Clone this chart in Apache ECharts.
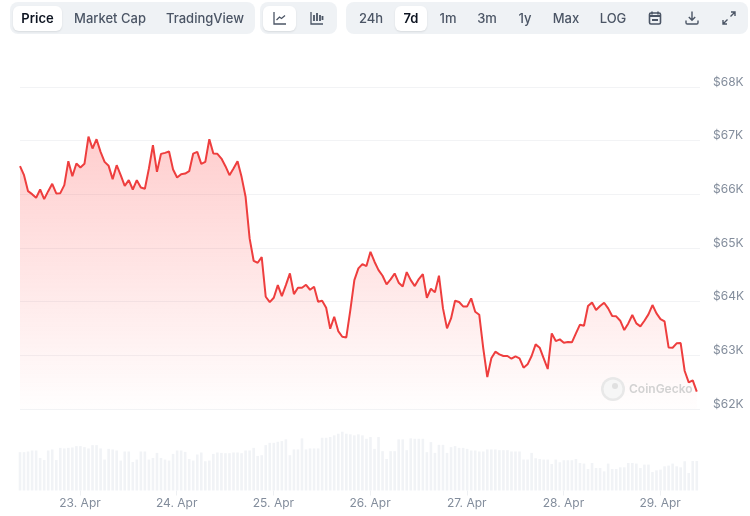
<!DOCTYPE html>
<html>
<head>
<meta charset="utf-8">
<title>Bitcoin 7d</title>
<script src="https://cdn.jsdelivr.net/npm/echarts@6/dist/echarts.min.js"></script>
<style>
    html, body {margin: 0; padding: 0; background: #fff; font-family: Inter, "Noto Sans", sans-serif;}
    #myBigChart {position: absolute; left: 0; top: 0; width: 750px; height: 516px;}
    .topGroup {position: absolute; top: 2px; height: 32px; background: #eff2f5; border-radius: 8px;}
    .topBtn {position: absolute; top: 4px; height: 25px; line-height: 25px; text-align: center; font-size: 13px; font-weight: 500; color: #4b5565; white-space: nowrap;}
    .topBtn svg {display: block; margin: 4px auto 0;}
    .topBtn_on {background: #fff; border-radius: 6px; color: #0d1421; font-weight: 600; box-shadow: 0 1px 2px rgba(13, 20, 33, .10);}
</style>
</head>
<body>
<div id="myBigChart"></div>

<div class="topGroup" style="left:10px;width:245px">
    <div class="topBtn topBtn_on" style="left:3px;width:49px">Price</div>
    <div class="topBtn" style="left:60px;width:80px">Market Cap</div>
    <div class="topBtn" style="left:152px;width:86px">TradingView</div>
</div>
<div class="topGroup" style="left:260px;width:77px">
    <div class="topBtn topBtn_on" style="left:3px;width:33px">
        <svg width="16" height="16" viewBox="0 0 16 16" fill="none" stroke="#4b5565" stroke-width="1.3"><path d="M2 2v12h12"/><path d="M4.5 10l3-3 2 1.5L13 5.5"/></svg>
    </div>
    <div class="topBtn" style="left:40px;width:33px">
        <svg width="16" height="16" viewBox="0 0 16 16" fill="none" stroke="#4b5565" stroke-width="1.3"><path d="M2 2v12h12"/><path d="M5 5v6M8 3v8M11 5v6M13.5 6v4" stroke-width="1.8"/></svg>
    </div>
</div>
<div class="topGroup" style="left:346px;width:402px">
    <div class="topBtn" style="left:6px;width:38px">24h</div>
    <div class="topBtn topBtn_on" style="left:49px;width:32px">7d</div>
    <div class="topBtn" style="left:84px;width:36px">1m</div>
    <div class="topBtn" style="left:123px;width:36px">3m</div>
    <div class="topBtn" style="left:161px;width:36px">1y</div>
    <div class="topBtn" style="left:198px;width:44px">Max</div>
    <div class="topBtn" style="left:245px;width:44px">LOG</div>
    <div class="topBtn" style="left:294px;width:30px">
        <svg width="16" height="16" viewBox="0 0 16 16" fill="none" stroke="#4b5565" stroke-width="1.6"><path d="M5 1.5v3M11 1.5v3"/><rect x="2.5" y="3" width="11" height="11" rx="1.5"/><path d="M2.5 6h11" stroke-width="2"/><path d="M5 10h6" stroke-width="2"/></svg>
    </div>
    <div class="topBtn" style="left:331px;width:30px">
        <svg width="16" height="16" viewBox="0 0 16 16" fill="none" stroke="#4b5565" stroke-width="1.4"><path d="M8 1.5v8.5M4.8 7L8 10.2 11.2 7"/><path d="M2 10.5v2.2c0 .7.5 1.3 1.3 1.3h9.4c.8 0 1.3-.6 1.3-1.3v-2.2"/></svg>
    </div>
    <div class="topBtn" style="left:368px;width:30px">
        <svg width="16" height="16" viewBox="0 0 16 16" fill="none" stroke="#4b5565" stroke-width="1.4"><path d="M9.5 6.5L14 2M10 2h4v4"/><path d="M6.5 9.5L2 14M2 10v4h4"/></svg>
    </div>
</div>

<script>
var startTime = Date.UTC(2024, 3, 22, 9, 6);
var stepTime = 3600 * 1000;

var priceValues = [
    66525, 66357, 66059, 66003, 65935, 66090, 65910, 66059, 66196, 66016,
    66022, 66171, 66618, 66338, 66574, 66500, 66568, 67077, 66854, 67027,
    66792, 66605, 66531, 66283, 66543, 66357, 66158, 66264, 66090, 66264,
    66127, 66103, 66481, 66916, 66419, 66754, 66773, 66798, 66463, 66314,
    66376, 66388, 66431, 66760, 66792, 66568, 66605, 67027, 66760, 66754,
    66667, 66525, 66357, 66481, 66618, 66326, 65954, 65178, 64762, 64725,
    64830, 64092, 63992, 64073, 64309, 64104, 64309, 64526, 64141, 64259,
    64259, 64315, 64222, 64278, 63998, 64017, 63887, 63496, 63719, 63452,
    63347, 63334, 63844, 64402, 64620, 64700, 64663, 64930, 64744, 64588,
    64483, 64322, 64415, 64526, 64353, 64284, 64551, 64402, 64290, 64421,
    64514, 64073, 64241, 64173, 64483, 63875, 63502, 63688, 64017, 63993,
    63912, 63912, 64061, 63813, 63757, 63130, 62596, 62944, 63068, 63018,
    62987, 62987, 62937, 62981, 62944, 62770, 62832, 62987, 63204, 63142,
    62944, 62745, 63409, 63266, 63297, 63235, 63248, 63242, 63409, 63571,
    63552, 63918, 63986, 63844, 63918, 63980, 63875, 63732, 63726, 63645,
    63471, 63595, 63751, 63595, 63540, 63645, 63763, 63937, 63782, 63676,
    63633, 63148, 63142, 63223, 63229, 62708, 62497, 62534, 62323
];

// 成交量，单位 B
var volumeValues = [
    38, 38, 38.7, 39.7, 39.7, 32.3, 30.3, 39.7, 40.7, 30.3,
    42.3, 41.7, 42.3, 42.7, 44, 44, 43, 41.7, 45, 45,
    41.7, 30.7, 41.3, 40.7, 39.7, 29.7, 38.7, 38.7, 28.3, 30.7,
    38.7, 38.7, 30.7, 32.3, 37.3, 32.3, 30.7, 29.7, 36.3, 39.7,
    39.7, 38.3, 31.3, 29.7, 35.7, 37.7, 29, 29.7, 36.3, 37.7,
    37.3, 37, 37, 37.7, 37.7, 37, 39.7, 39.7, 42.3, 34.3,
    35, 45, 47.3, 47.3, 48.3, 49, 50.7, 35, 40.7, 40.7,
    51.7, 40.7, 41.7, 41.7, 41.7, 52.3, 52.3, 53, 54.7, 56.3,
    58.3, 56.3, 55.7, 54.7, 55.7, 54.7, 51.3, 53, 41.3, 53,
    39, 31.3, 39, 39, 50.7, 50.7, 40, 51.7, 51.3, 51.3,
    51.3, 38, 48, 37.3, 45.3, 45.3, 37.3, 43, 44, 42.3,
    42.3, 41.3, 39.7, 39.7, 38.7, 38.7, 40.7, 40.7, 40.7, 40,
    40, 40, 38.7, 38.7, 38.7, 30.7, 30.7, 37.3, 32, 31.3,
    30.7, 30.7, 26.3, 30.7, 28, 30, 30, 30, 31.3, 27.3,
    26.7, 21.3, 27.3, 22.3, 22.3, 19, 26.7, 21.3, 21.3, 23,
    23, 27.3, 27.3, 26.7, 22.3, 25.7, 25.7, 18.3, 20, 20.7,
    24, 24.7, 26.7, 24, 23, 29, 17.3, 29.3, 29.3
];

var dayTicks = [
    Date.UTC(2024, 3, 23), Date.UTC(2024, 3, 24), Date.UTC(2024, 3, 25), Date.UTC(2024, 3, 26),
    Date.UTC(2024, 3, 27), Date.UTC(2024, 3, 28), Date.UTC(2024, 3, 29)
];
var dayLabels = ['23. Apr', '24. Apr', '25. Apr', '26. Apr', '27. Apr', '28. Apr', '29. Apr'];

function withTime(list) {
    return list.map(function (v, i) {
        return [startTime + i * stepTime, v];
    });
}

var xMax = startTime + 168.8 * stepTime;
var labelColor = '#838d9c';
var myFont = 'Inter, "Noto Sans", sans-serif';

var myChart = echarts.init(document.getElementById('myBigChart'), null, {renderer: 'canvas'});

var option = {
    animation: false,
    grid: [
        {left: 20, right: 50, top: 87, height: 322},
        {left: 20, right: 50, top: 430, height: 60.5}
    ],
    xAxis: [
        {
            // time 轴配 customValues 会报错，这里用 value 轴放毫秒
            type: 'value', gridIndex: 0, min: startTime, max: xMax, show: false
        },
        {
            type: 'value', gridIndex: 1, min: startTime, max: xMax,
            axisLine: {show: false},
            splitLine: {show: false},
            axisTick: {show: true, length: 5, customValues: dayTicks, lineStyle: {color: '#eef0f3'}},
            axisLabel: {
                show: true,
                customValues: dayTicks,
                margin: 7,
                fontSize: 12,
                fontFamily: myFont,
                color: labelColor,
                hideOverlap: false,
                formatter: function (v) {
                    return dayLabels[dayTicks.indexOf(v)];
                }
            }
        }
    ],
    yAxis: [
        {
            type: 'value', gridIndex: 0, position: 'right', min: 62000, max: 68000, interval: 1000,
            axisLine: {show: false},
            axisTick: {show: false},
            splitLine: {lineStyle: {color: '#f2f3f5', width: 1}},
            axisLabel: {
                margin: 13,
                fontSize: 12,
                lineHeight: 10,
                fontFamily: myFont,
                color: labelColor,
                verticalAlign: 'bottom',
                formatter: function (v) {
                    return '$' + (v / 1000) + 'K';
                }
            }
        },
        {
            type: 'value', gridIndex: 1, min: 0, max: 60, show: false
        }
    ],
    series: [
        {
            type: 'bar', xAxisIndex: 1, yAxisIndex: 1,
            data: withTime(volumeValues),
            barWidth: 2.6,
            itemStyle: {color: '#f1f3f6'}
        },
        {
            type: 'line', xAxisIndex: 0, yAxisIndex: 0,
            data: withTime(priceValues),
            showSymbol: false,
            smooth: false,
            lineStyle: {color: '#ee3e3e', width: 2},
            areaStyle: {
                color: {
                    type: 'linear', global: true, x: 0, y: 137, x2: 0, y2: 415,
                    colorStops: [
                        {offset: 0, color: 'rgba(255, 60, 60, 0.36)'},
                        {offset: 1, color: 'rgba(255, 60, 60, 0)'}
                    ]
                }
            }
        }
    ],
    graphic: [
        {type: 'circle', shape: {cx: 613, cy: 389, r: 12}, style: {fill: '#e8e8e8'}, z: 10},
        {type: 'circle', shape: {cx: 613, cy: 389, r: 9.5}, style: {fill: '#f6f6f6'}, z: 10},
        {type: 'circle', shape: {cx: 615, cy: 386, r: 3}, style: {fill: '#e0e0e0'}, z: 10},
        {
            type: 'text', x: 629, y: 389, z: 10,
            style: {
                text: 'CoinGecko', fill: '#d2d2d2', fontSize: 12, fontWeight: 600,
                fontFamily: myFont, verticalAlign: 'middle'
            }
        }
    ]
};
myChart.setOption(option);
</script>
</body>
</html>
